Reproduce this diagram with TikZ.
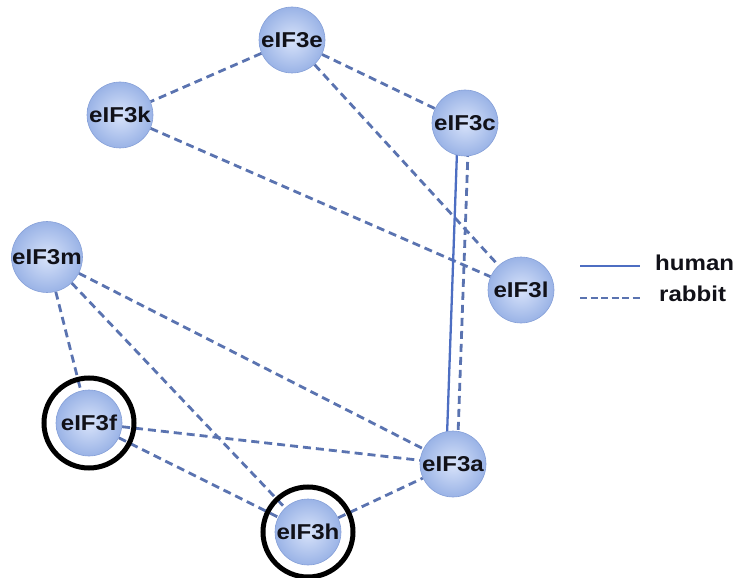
\documentclass[tikz,border=0pt]{standalone}
\usepackage{fontspec}
\usetikzlibrary{backgrounds}
\newfontfamily\nodefont[FakeStretch=1.12]{Liberation Sans}
\definecolor{ballin}{HTML}{D8E3FA}
\definecolor{ballout}{HTML}{9AB3E6}
\definecolor{ballrim}{HTML}{86A0D8}
\definecolor{linkdash}{HTML}{5A73B0}
\definecolor{linksolid}{HTML}{4D6EC2}
\definecolor{labeltext}{HTML}{111118}
\tikzset{
  subunit/.style={circle, minimum size=66pt, inner sep=0pt,
    shading=radial, inner color=ballin, outer color=ballout,
    draw=ballrim, line width=0.6pt,
    font=\nodefont\bfseries\fontsize{21.5}{21.5}\selectfont, text=labeltext},
  ring/.style={circle, minimum size=90pt, inner sep=0pt, draw=black, line width=5pt},
  rabbit/.style={draw=linkdash, line width=2.8pt, dash pattern=on 8pt off 5pt},
  human/.style={draw=linksolid, line width=2.3pt},
  legendtext/.style={anchor=west, inner sep=0pt, text=labeltext,
    font=\nodefont\bfseries\fontsize{21.5}{21.5}\selectfont}
}
\begin{document}
\begin{tikzpicture}[x=1pt, y=-1pt]
  \useasboundingbox (0,0) rectangle (740,578);
  % subunits
  \node[subunit] (e) at (292,40)  {eIF3e};
  \node[subunit] (k) at (120,115) {eIF3k};
  \node[subunit] (c) at (465,123) {eIF3c};
  \node[subunit] (m) at (47,257)  {eIF3m};
  \node[subunit] (l) at (521,290) {eIF3l};
  \node[subunit] (f) at (89,423)  {eIF3f};
  \node[subunit] (a) at (453,464) {eIF3a};
  \node[subunit] (h) at (308,532) {eIF3h};
  % highlighted subunits
  \node[ring] (fring) at (f) {};
  \node[ring] (hring) at (h) {};
  % interactions, drawn beneath the subunits
  \begin{pgfonlayer}{background}
    \draw[rabbit] (e) -- (k);
    \draw[rabbit] (e) -- (c);
    \draw[rabbit] (e) -- (l);
    \draw[rabbit] (k) -- (l);
    \draw[human]  ([xshift=-7pt]c.center) -- ([xshift=-7pt]a.center);
    \draw[rabbit] ([xshift=4pt]c.center) -- ([xshift=4pt]a.center);
    \draw[rabbit] (m) -- (f);
    \draw[rabbit] (m) -- (h);
    \draw[rabbit] (m) -- (a);
    \draw[rabbit] (f) -- (a);
    \draw[rabbit] (f) -- (h);
    \draw[rabbit] (h) -- (a);
  \end{pgfonlayer}
  % legend
  \coordinate (hs) at (580,266);
  \coordinate (he) at (640,266);
  \coordinate (rs) at (580,298);
  \coordinate (re) at (640,298);
  \draw[human] (hs) -- (he);
  \draw[rabbit, dash pattern=on 7pt off 3.5pt] (rs) -- (re);
  \node[legendtext] (hl) at (655,263) {human};
  \node[legendtext] (rl) at (659,294) {rabbit};
\end{tikzpicture}
\end{document}
